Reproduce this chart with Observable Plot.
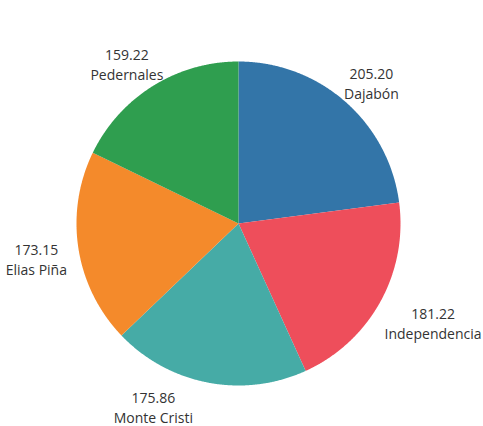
<!DOCTYPE html>
<html><head><meta charset="utf-8">
<script src="https://cdn.jsdelivr.net/npm/d3@7"></script>
<script src="https://cdn.jsdelivr.net/npm/@observablehq/plot@0.6"></script>
<style>body{margin:0;background:#fff}</style>
</head><body><div id="chart"></div>
<script>
const provinces = ["Dajabón", "Independencia", "Monte Cristi", "Elias Piña", "Pedernales"];
const values = [205.20, 181.22, 175.86, 173.15, 159.22];
const labels = ["205.20", "181.22", "175.86", "173.15", "159.22"];
const colors = ["#3375a8", "#ee4e5b", "#46aba6", "#f48a2b", "#2f9e4f"];

const W = 483, H = 426, cx = 238, cy = 223, R = 162;
const FONT = "'Open Sans', sans-serif", FS = 14, LH = 1.43;
const pie = d3.pie().sort(null).value(d => d.value)(provinces.map((p, i) => ({name: p, value: values[i], label: labels[i]})));

const pts = [];
for (const s of pie) {
  pts.push({name: s.data.name, x: 0, y: 0});
  const n = Math.max(2, Math.ceil((s.endAngle - s.startAngle) / 0.005));
  for (let k = 0; k <= n; k++) {
    const a = s.startAngle + (s.endAngle - s.startAngle) * k / n;
    pts.push({name: s.data.name, x: R * Math.sin(a), y: -R * Math.cos(a)});
  }
}

// label placement: anchor just outside the circle, text box pushed outward,
// slid along the circle (away from the edge it crosses) if it would leave the area
const ctx = document.createElement("canvas").getContext("2d");
ctx.font = `${FS}px ${FONT}`;
const lab = pie.map(s => {
  const mid = (s.startAngle + s.endAngle) / 2;
  const w = Math.max(ctx.measureText(s.data.label).width, ctx.measureText(s.data.name).width);
  const h = FS * LH * 2, g = R + 12, dy = 5;
  const place = a => ({
    x: g * Math.sin(a) + Math.sin(a) * w / 2,
    y: -g * Math.cos(a) - Math.cos(a) * h / 2 + dy
  });
  const overflowV = p => p.y - h / 2 < -cy + 2 || p.y + h / 2 > H - cy;
  const overflowH = p => p.x - w / 2 < -cx + 2 || p.x + w / 2 > W - cx - 1;
  let a = mid, p = place(a);
  const step = 0.004;
  for (let i = 0; i < 300 && (overflowV(p) || overflowH(p)); i++) {
    if (overflowV(p)) {
      const pole = Math.round(mid / Math.PI) * Math.PI;
      a += (mid >= pole ? 1 : -1) * step;
    } else {
      const pole = Math.round((mid - Math.PI / 2) / Math.PI) * Math.PI + Math.PI / 2;
      a += (mid >= pole ? 1 : -1) * step;
    }
    p = place(a);
  }
  return {text: s.data.label + "\n" + s.data.name, x: p.x, y: p.y};
});

const chart = Plot.plot({
  width: W, height: H,
  margin: 0,
  x: {domain: [-cx, W - cx], range: [0, W], axis: null},
  y: {domain: [-cy, H - cy], range: [0, H], axis: null},
  color: {domain: provinces, range: colors},
  style: {fontFamily: FONT, background: "#fff"},
  marks: [
    Plot.line(pts, {x: "x", y: "y", z: "name", fill: "name", stroke: null, curve: "linear-closed"}),
    Plot.text(lab, {x: "x", y: "y", text: "text", fontSize: FS, lineHeight: LH, fill: "#333", textAnchor: "middle"})
  ]
});
document.getElementById("chart").append(chart);
</script>
</body></html>
